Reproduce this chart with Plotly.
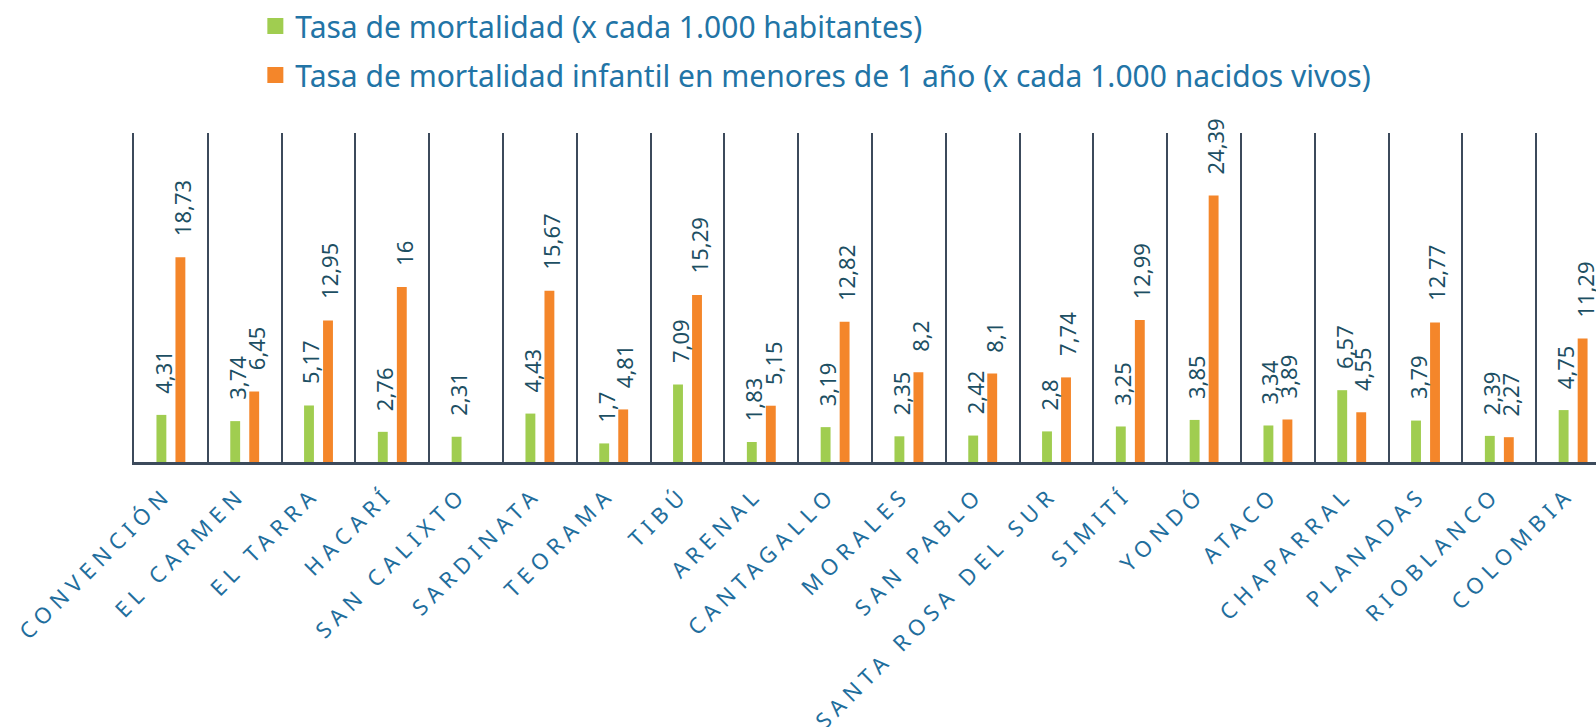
import plotly.graph_objects as go

categories = ["CONVENCIÓN", "EL CARMEN", "EL TARRA", "HACARÍ", "SAN CALIXTO", "SARDINATA",
              "TEORAMA", "TIBÚ", "ARENAL", "CANTAGALLO", "MORALES", "SAN PABLO",
              "SANTA ROSA DEL SUR", "SIMITÍ", "YONDÓ", "ATACO", "CHAPARRAL", "PLANADAS",
              "RIOBLANCO", "COLOMBIA"]
mortalidad = [4.31, 3.74, 5.17, 2.76, 2.31, 4.43, 1.7, 7.09, 1.83, 3.19, 2.35, 2.42,
              2.8, 3.25, 3.85, 3.34, 6.57, 3.79, 2.39, 4.75]
mortalidad_infantil = [18.73, 6.45, 12.95, 16, None, 15.67, 4.81, 15.29, 5.15, 12.82, 8.2, 8.1,
                       7.74, 12.99, 24.39, 3.89, 4.55, 12.77, 2.27, 11.29]
series_names = ["Tasa de mortalidad (x cada 1.000 habitantes)",
                "Tasa de mortalidad infantil en menores de 1 año (x cada 1.000 nacidos vivos)"]

GREEN = "#a0cd50"
ORANGE = "#f4862a"
GRID = "#3c4a5b"
TICK = "#1f6e9d"
LABEL = "#1d4f63"
FONT = "Noto Sans"


def fmt(v):
    return f"{v:g}".replace(".", ",")


fig = go.Figure()
for vals, name, color, grp in ((mortalidad, series_names[0], GREEN, "a"),
                                (mortalidad_infantil, series_names[1], ORANGE, "b")):
    fig.add_trace(go.Bar(x=categories, y=vals, name=name, showlegend=False,
                         marker=dict(color=color, line=dict(width=0)), legendgroup=grp))
    # legend swatch (square marker, matching the reference legend key size)
    fig.add_trace(go.Scatter(x=[None], y=[None], mode="markers", name=name,
                             marker=dict(symbol="square", size=16, color=color),
                             legendgroup=grp, showlegend=True))

annotations = []
for vals, shift in ((mortalidad, -9.5), (mortalidad_infantil, 9.5)):
    for c, v in zip(categories, vals):
        if v is None:
            continue
        annotations.append(dict(x=c, y=v, xref="x", yref="y", text=fmt(v), showarrow=False,
                                textangle=-90, xanchor="center", yanchor="bottom",
                                xshift=shift + 1.5, yshift=19,
                                font=dict(family=FONT, size=22, color=LABEL)))

fig.update_layout(
    width=1596, height=727,
    margin=dict(l=134, r=0, t=133, b=265),
    paper_bgcolor="white", plot_bgcolor="white",
    barmode="group", bargap=0.485, bargroupgap=0.48,
    font=dict(family=FONT),
    showlegend=True,
    legend=dict(orientation="v", x=0.083, xanchor="left", y=1.404, yanchor="top",
                font=dict(family=FONT, size=30, color="#2274a6"),
                tracegroupgap=7, bgcolor="rgba(0,0,0,0)"),
    annotations=annotations,
)
fig.update_xaxes(type="category", range=[-0.5, 19.31], tickson="boundaries",
                 showgrid=True, gridcolor=GRID, gridwidth=2,
                 showline=True, linecolor=GRID, linewidth=2.5,
                 ticks="", tickangle=-45, automargin=False,
                 ticklabelstandoff=8, ticklabelshift=-5,
                 tickfont=dict(family=FONT, size=22, color=TICK))
fig.update_yaxes(range=[0, 30.1], showgrid=False, zeroline=False, showticklabels=False,
                 showline=True, linecolor=GRID, linewidth=2, ticks="", automargin=False)

post = ("document.body.style.margin='0';"
        "var s=document.createElement('style');"
        "s.textContent='body{margin:0;} .xtick text{letter-spacing:6px;}';"
        "document.head.appendChild(s);")
fig.write_html("out.html", post_script=post, config={"displayModeBar": False})
